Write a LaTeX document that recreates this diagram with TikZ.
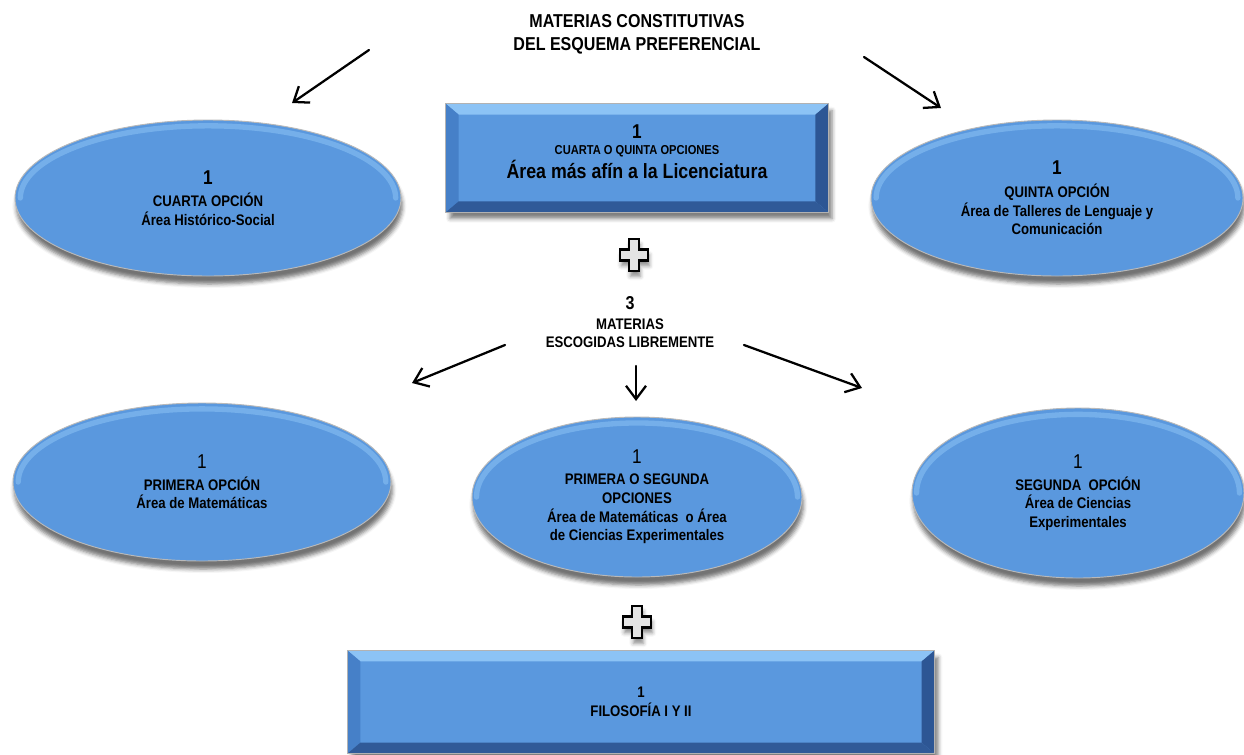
\documentclass[tikz,border=0pt]{standalone}
\usepackage{fontspec}
\setmainfont{Liberation Sans}[FakeStretch=0.86]
\usetikzlibrary{arrows.meta,calc,shapes.geometric,shadows.blur}

\definecolor{azulbase}{RGB}{90,152,222}
\definecolor{azulclaro}{RGB}{140,195,245}
\definecolor{azulmedio}{RGB}{70,128,200}
\definecolor{azuloscuro}{RGB}{45,86,148}
\definecolor{azulborde}{RGB}{48,90,152}

\pgfdeclareradialshading{ovalo}{\pgfpoint{0bp}{12bp}}{%
  color(0bp)=(azulbase); color(35bp)=(azulbase); color(43bp)=(azulmedio); color(50bp)=(azulborde)}

\tikzset{
  titulo/.style={align=center, inner sep=0.75pt, font=\fontsize{14}{17}\selectfont\bfseries},
  textolibre/.style={align=center, inner sep=0.75pt, font=\fontsize{11.5}{14}\selectfont\bfseries},
  opcion/.style={ellipse, shade, shading=ovalo, draw=gray!55, line width=0.7pt, inner sep=0pt,
    align=center, font=\fontsize{11.5}{14}\selectfont\bfseries,
    blur shadow={shadow xshift=1pt, shadow yshift=-6pt, shadow blur radius=3pt, shadow opacity=55}},
  brillo/.style={azulclaro, line width=4pt, line cap=round, opacity=0.55},
  cajabisel/.style={rectangle, fill=azulbase, inner sep=0pt, align=center,
    font=\fontsize{11.5}{14}\selectfont\bfseries,
    blur shadow={shadow xshift=3pt, shadow yshift=-5pt, shadow blur radius=3pt, shadow opacity=50}},
  flecha/.style={line width=1.7pt, line cap=round, -{Straight Barb[length=10pt,width=15pt]}},
  cruz/.style={fill=gray!22, draw=black, line width=1.6pt, line join=miter,
    blur shadow={shadow xshift=1pt, shadow yshift=-4pt, shadow blur radius=3pt, shadow opacity=45}},
}

\begin{document}
\begin{tikzpicture}[x=0.75pt,y=0.75pt,yscale=-1,xscale=1]
\useasboundingbox (0,0) rectangle (1244,754);

% Text Node
\node[titulo] (titulo) at (637,34) {MATERIAS CONSTITUTIVAS\\DEL ESQUEMA PREFERENCIAL};

%Shape: Rectangle
\node[cajabisel, minimum width=286.5pt, minimum height=81pt, text depth=10pt] (afin) at (637,158)
  {{\fontsize{15}{16}\selectfont 1}\\[-1.5pt]
   {\fontsize{9.7}{11}\selectfont CUARTA O QUINTA OPCIONES}\\[1pt]
   {\fontsize{15.5}{18}\selectfont Área más afín a la Licenciatura}};

%Shape: Rectangle
\node[cajabisel, minimum width=440pt, minimum height=77pt] (filosofia) at (641,702)
  {1\\FILOSOFÍA I Y II};

% bevel edges of both boxes
\foreach \c in {afin,filosofia}{
  \fill[azulclaro] (\c.north west) -- (\c.north east) -- ($(\c.north east)+(-13,11)$) -- ($(\c.north west)+(13,11)$) -- cycle;
  \fill[azulmedio] (\c.north west) -- ($(\c.north west)+(13,11)$) -- ($(\c.south west)+(13,-11)$) -- (\c.south west) -- cycle;
  \fill[azuloscuro] (\c.north east) -- ($(\c.north east)+(-13,11)$) -- ($(\c.south east)+(-13,-11)$) -- (\c.south east) -- cycle;
  \fill[azulborde] (\c.south west) -- ($(\c.south west)+(13,-11)$) -- ($(\c.south east)+(-13,-11)$) -- (\c.south east) -- cycle;
  \draw[gray!60, line width=0.7pt] (\c.north west) rectangle (\c.south east);
}

%Shape: Ellipse
\node[opcion, minimum width=289.5pt, minimum height=117pt] (historico) at (208,198)
  {{\fontsize{15}{16}\selectfont 1}\\[3pt] CUARTA OPCIÓN\\ Área Histórico-Social};
%Shape: Ellipse
\node[opcion, minimum width=279pt, minimum height=117pt] (talleres) at (1057,198)
  {{\fontsize{15}{16}\selectfont 1}\\[3pt] QUINTA OPCIÓN\\ Área de Talleres de Lenguaje y\\ Comunicación};

% Text Node
\node[textolibre] (libres) at (630,322)
  {{\fontsize{14}{15}\selectfont 3}\\[1pt] MATERIAS\\ ESCOGIDAS LIBREMENTE};

%Shape: Ellipse
\node[opcion, minimum width=283.5pt, minimum height=118.5pt] (matematicas) at (202,482)
  {{\fontsize{15}{16}\selectfont\mdseries 1}\\[2pt] PRIMERA OPCIÓN\\ Área de Matemáticas};
%Shape: Ellipse
\node[opcion, minimum width=247.5pt, minimum height=120pt] (mixta) at (637,497)
  {{\fontsize{15}{16}\selectfont\mdseries 1}\\[2pt] PRIMERA O SEGUNDA\\ OPCIONES\\ Área de Matemáticas\ \ o Área\\ de Ciencias Experimentales};
%Shape: Ellipse
\node[opcion, minimum width=249pt, minimum height=127.5pt] (ciencias) at (1078,493)
  {{\fontsize{15}{16}\selectfont\mdseries 1}\\[2pt] SEGUNDA\ \ OPCIÓN\\ Área de Ciencias\\ Experimentales};

% light rim along the top of each ellipse
\foreach \e in {historico,talleres,matematicas,mixta,ciencias}
  \draw[brillo] ($(\e.center)!0.97!(\e.west)$)
    .. controls ($(\e.center)!0.97!(\e.west)+0.5*(\e.north)-0.5*(\e.center)$)
    and ($(\e.center)!0.92!(\e.north)+0.54*(\e.west)-0.54*(\e.center)$)
    .. ($(\e.center)!0.92!(\e.north)$)
    .. controls ($(\e.center)!0.92!(\e.north)+0.54*(\e.east)-0.54*(\e.center)$)
    and ($(\e.center)!0.97!(\e.east)+0.5*(\e.north)-0.5*(\e.center)$)
    .. ($(\e.center)!0.97!(\e.east)$);

% arrow ends
\coordinate (ini-hist) at (369,50);  \coordinate (fin-hist) at (292,103);
\coordinate (ini-tall) at (864,57);  \coordinate (fin-tall) at (941,108);
\coordinate (ini-mat) at (505,345);  \coordinate (fin-mat) at (412,383);
\coordinate (ini-mix) at (636,366);  \coordinate (fin-mix) at (636,401);
\coordinate (ini-cie) at (744,345);  \coordinate (fin-cie) at (862,388);

%Straight Lines
\foreach \a in {hist,tall,mat,mix,cie}
  \draw[flecha] (ini-\a) -- (fin-\a);

%Shape: Cross
\foreach \p in {(634,255),(637,622)}
  \draw[cruz] \p ++(-5,-16) -- ++(10,0) -- ++(0,10.5) -- ++(9,0) -- ++(0,11) -- ++(-9,0)
    -- ++(0,10.5) -- ++(-10,0) -- ++(0,-10.5) -- ++(-9,0) -- ++(0,-11) -- ++(9,0) -- cycle;

\end{tikzpicture}
\end{document}
